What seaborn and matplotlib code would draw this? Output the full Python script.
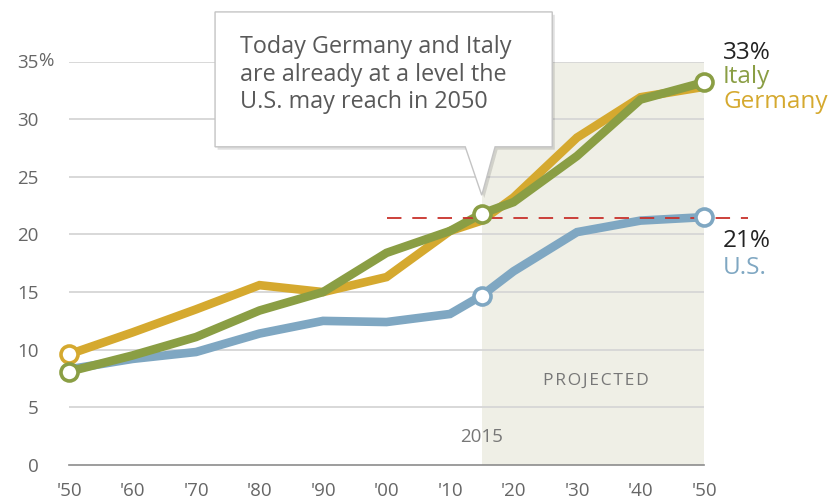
import numpy as np
import pandas as pd
import matplotlib
matplotlib.use('Agg')
import matplotlib.pyplot as plt
from matplotlib.patches import Polygon
from matplotlib.transforms import blended_transform_factory
import seaborn as sns

# Share of population ages 65 and older (%), actual and projected
years = [1950, 1960, 1970, 1980, 1990, 2000, 2010, 2015, 2020, 2030, 2040, 2050]
germany = [9.6, 11.5, 13.5, 15.6, 15.0, 16.3, 20.3, 21.2, 23.2, 28.4, 31.9, 32.8]
italy = [8.1, 9.5, 11.1, 13.4, 15.0, 18.4, 20.3, 21.8, 22.8, 26.8, 31.7, 33.2]
us = [8.3, 9.2, 9.8, 11.4, 12.5, 12.4, 13.1, 14.7, 16.8, 20.2, 21.2, 21.5]

countries = ['U.S.', 'Germany', 'Italy']
colors = {'U.S.': '#7fa7c2', 'Germany': '#d5a92f', 'Italy': '#8a9e44'}

# hollow markers: (country, year)
marker_points = [('Germany', 1950), ('Italy', 1950), ('U.S.', 2015),
                 ('Italy', 2015), ('U.S.', 2050), ('Italy', 2050)]

us_2050_level = 21.4
ref_line_start, ref_line_end = 2000, 2057
projection_start, projection_end = 2015, 2050

y_ticks = [0, 5, 10, 15, 20, 25, 30, 35]
x_ticks = list(range(1950, 2051, 10))
x_labels = ["'" + str(y)[2:] for y in x_ticks]

df = pd.DataFrame({'year': years * 3,
                   'country': ['U.S.'] * len(years) + ['Germany'] * len(years) + ['Italy'] * len(years),
                   'share': us + germany + italy})

sns.set_style('white')
plt.rcParams['font.family'] = ['Open Sans', 'DejaVu Sans']

fig = plt.figure(figsize=(8.38, 5.04), dpi=100)
ax = fig.add_axes([69 / 838, 39 / 504, 635 / 838, 403.5 / 504])

# projected band
ax.axvspan(projection_start, projection_end, ymin=0, ymax=1, color='#efefe6', zorder=0, lw=0)

# gridlines
for yv in y_ticks[1:]:
    ax.axhline(yv, color='#d6d6d6', lw=1.3, zorder=1)

sns.lineplot(data=df, x='year', y='share', hue='country', hue_order=countries,
             palette=colors, linewidth=6.2, legend=False, ax=ax, zorder=3)
for line in ax.get_lines()[-3:]:
    line.set_solid_joinstyle('miter')
    line.set_solid_capstyle('butt')
    line.set_clip_on(False)

# reference dashed line
ax.plot([ref_line_start, ref_line_end], [us_2050_level, us_2050_level], color='#c8312b',
        lw=1.3, dashes=(8, 6), zorder=4, clip_on=False)

# hollow markers
mk = pd.DataFrame([(c, y, df[(df.country == c) & (df.year == y)].share.iloc[0])
                   for c, y in marker_points], columns=['country', 'year', 'share'])
for _, r in mk.iterrows():
    ax.scatter(r.year, r.share, s=150, facecolor='white', edgecolor=colors[r.country],
               linewidth=2.6, zorder=6, clip_on=False)

ax.set_xlim(1950, 2050)
ax.set_ylim(0, 35)
ax.set_xticks(x_ticks)
ax.set_xticklabels(x_labels)
ax.set_yticks(y_ticks)
ax.set_yticklabels([str(v) for v in y_ticks])
ax.set_xlabel('')
ax.set_ylabel('')
for s in ['top', 'right', 'left']:
    ax.spines[s].set_visible(False)
ax.spines['bottom'].set_color('#8c8c8c')
ax.spines['bottom'].set_linewidth(1.2)
ax.tick_params(axis='x', length=7, width=1.2, color='#8c8c8c', direction='out',
               labelsize=13.5, labelcolor='#666666', pad=5)
ax.tick_params(axis='y', length=0, labelsize=13.5, labelcolor='#666666', pad=22)

trans = blended_transform_factory(ax.transAxes, ax.transData)
ax.text(-0.048, 35, '%', transform=trans, ha='left', va='center', fontsize=13.5, color='#666666')

# labels inside plot
ax.text(2015, 2.4, '2015', ha='center', va='center', fontsize=13.5, color='#777777')
ax.text(2033, 7.3, 'P R O J E C T E D'.replace(' ', '\u200a'), ha='center', va='center',
        fontsize=12.5, color='#777777')

# right-hand labels
lab_size = 17.5
ax.text(2053, 35.25, '33%', ha='left', va='baseline', fontsize=lab_size, color='#222222', clip_on=False)
ax.text(2053, 33.1, 'Italy', ha='left', va='baseline', fontsize=lab_size, color=colors['Italy'], clip_on=False)
ax.text(2053, 30.95, 'Germany', ha='left', va='baseline', fontsize=lab_size, color=colors['Germany'], clip_on=False)
ax.text(2053, 18.9, '21%', ha='left', va='baseline', fontsize=lab_size, color='#222222', clip_on=False)
ax.text(2053, 16.55, 'U.S.', ha='left', va='baseline', fontsize=lab_size, color=colors['U.S.'], clip_on=False)

# callout box with pointer
bx0, bx1, by0, by1 = 1973.0, 2026.1, 27.6, 39.3
px0, px1, tip_x, tip_y = 2012.4, 2017.1, 2015.0, 23.4
outline = [(bx0, by1), (bx1, by1), (bx1, by0), (px1, by0), (tip_x, tip_y),
           (px0, by0), (bx0, by0)]
shadow = Polygon([(x + 0.4, y - 0.25) for x, y in outline], closed=True,
                 facecolor='#000000', alpha=0.12, edgecolor='none', zorder=7, clip_on=False)
ax.add_patch(shadow)
box = Polygon(outline, closed=True, facecolor='white', edgecolor='#c4c4c4',
              lw=1.0, zorder=8, clip_on=False)
ax.add_patch(box)
ax.text(1976.9, 33.85, 'Today Germany and Italy\nare already at a level the\nU.S. may reach in 2050',
        ha='left', va='center', fontsize=16.8, color='#595959', linespacing=1.2, zorder=9)

fig.savefig('out.png', dpi=100)
